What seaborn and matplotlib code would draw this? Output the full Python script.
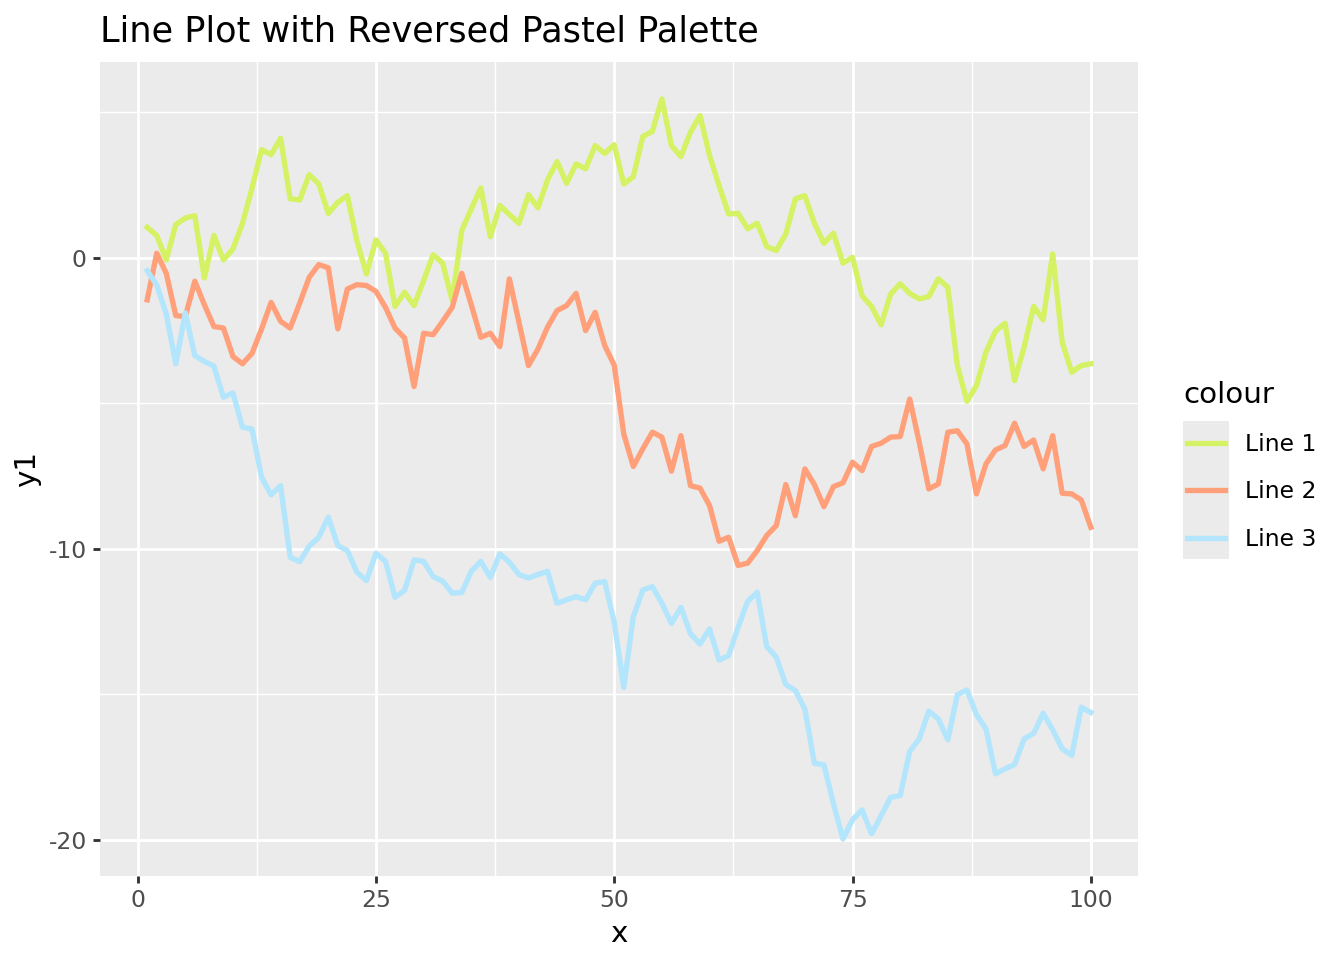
import matplotlib
matplotlib.use("Agg")
import matplotlib.pyplot as plt
import seaborn as sns
import pandas as pd
import numpy as np
from matplotlib.patches import Rectangle
from matplotlib.ticker import FixedLocator

x_vals = list(range(1, 101))

y_line1 = [1.04,0.76,-0.08,1.13,1.36,1.44,-0.70,0.76,-0.08,0.30,
           1.18,2.39,3.71,3.54,4.10,2.02,1.98,2.85,2.53,1.52,
           1.90,2.13,0.58,-0.56,0.61,0.15,-1.68,-1.19,-1.65,-0.79,
           0.10,-0.19,-1.48,0.93,1.67,2.39,0.72,1.79,1.48,1.18,
           2.16,1.71,2.67,3.30,2.55,3.22,3.05,3.85,3.58,3.88,
           2.53,2.78,4.16,4.34,5.45,3.85,3.47,4.31,4.88,3.51,
           2.47,1.50,1.52,0.99,1.18,0.38,0.24,0.81,2.02,2.13,
           1.18,0.49,0.84,-0.19,0.01,-1.31,-1.68,-2.31,-1.25,-0.90,
           -1.23,-1.42,-1.34,-0.73,-1.02,-3.71,-4.94,-4.40,-3.25,-2.53,
           -2.26,-4.23,-3.08,-1.68,-2.14,0.13,-2.91,-3.94,-3.71,-3.65]

y_line2 = [-1.45,0.15,-0.54,-1.99,-2.03,-0.81,-1.62,-2.37,-2.42,-3.40,
           -3.65,-3.29,-2.45,-1.54,-2.19,-2.42,-1.57,-0.68,-0.24,-0.35,
           -2.45,-1.08,-0.93,-0.96,-1.16,-1.71,-2.42,-2.76,-4.43,-2.60,
           -2.65,-2.19,-1.71,-0.54,-1.62,-2.74,-2.60,-3.06,-0.73,-2.22,
           -3.71,-3.14,-2.39,-1.82,-1.65,-1.23,-2.51,-1.88,-3.02,-3.70,
           -6.06,-7.18,-6.57,-6.00,-6.17,-7.34,-6.12,-7.84,-7.92,-8.52,
           -9.75,-9.61,-10.58,-10.50,-10.07,-9.55,-9.21,-7.80,-8.87,-7.26,
           -7.80,-8.56,-7.87,-7.74,-7.03,-7.32,-6.49,-6.38,-6.17,-6.15,
           -4.86,-6.35,-7.95,-7.78,-6.00,-5.95,-6.40,-8.12,-7.09,-6.61,
           -6.46,-5.69,-6.49,-6.27,-7.26,-6.12,-8.10,-8.12,-8.33,-9.27]

y_line3 = [-0.45,-0.94,-1.94,-3.65,-1.90,-3.37,-3.57,-3.73,-4.80,-4.65,
           -5.83,-5.89,-7.55,-8.15,-7.84,-10.30,-10.45,-9.92,-9.61,-8.92,
           -9.90,-10.07,-10.81,-11.10,-10.16,-10.44,-11.67,-11.44,-10.39,-10.44,
           -10.96,-11.12,-11.53,-11.51,-10.78,-10.44,-10.99,-10.18,-10.47,-10.89,
           -11.01,-10.89,-10.78,-11.88,-11.76,-11.65,-11.76,-11.19,-11.13,-12.53,
           -14.77,-12.34,-11.42,-11.31,-11.88,-12.57,-12.02,-12.93,-13.28,-12.76,
           -13.83,-13.68,-12.70,-11.81,-11.50,-13.37,-13.73,-14.67,-14.88,-15.51,
           -17.38,-17.43,-18.77,-19.98,-19.32,-18.98,-19.80,-19.18,-18.55,-18.49,
           -16.97,-16.54,-15.59,-15.85,-16.57,-15.02,-14.86,-15.70,-16.20,-17.74,
           -17.57,-17.42,-16.54,-16.35,-15.66,-16.23,-16.88,-17.11,-15.45,-15.63]

series_names = ["Line 1", "Line 2", "Line 3"]
series_colors = ["#D4F263", "#FFA07A", "#B3E5FC"]
x_ticks = [0, 25, 50, 75, 100]
y_ticks = [-20, -10, 0]
title_text = "Line Plot with Reversed Pastel Palette"
legend_title = "colour"

df = pd.DataFrame({
    "x": x_vals * 3,
    "y1": y_line1 + y_line2 + y_line3,
    "colour": sum([[n] * len(x_vals) for n in series_names], []),
})

plt.rcParams["font.family"] = ["DejaVu Sans"]
plt.rcParams["axes.unicode_minus"] = False

fig = plt.figure(figsize=(7, 5), dpi=192)
W, H = 1344, 960
ax = fig.add_axes([100 / W, 1 - 876 / H, (1138 - 100) / W, (876 - 62) / H])
ax.set_facecolor("#EBEBEB")

palette = dict(zip(series_names, series_colors))
sns.lineplot(data=df, x="x", y="y1", hue="colour", palette=palette,
             linewidth=2.0, ax=ax, legend=True)

xmin, xmax = min(x_vals), max(x_vals)
ally = y_line1 + y_line2 + y_line3
ymin, ymax = min(ally), max(ally)
xr = xmax - xmin
yr = ymax - ymin
ax.set_xlim(xmin - 0.05 * xr, xmax + 0.05 * xr)
ax.set_ylim(ymin - 0.05 * yr, ymax + 0.05 * yr)

ax.xaxis.set_major_locator(FixedLocator(x_ticks))
ax.yaxis.set_major_locator(FixedLocator(y_ticks))
ax.xaxis.set_minor_locator(FixedLocator([12.5, 37.5, 62.5, 87.5]))
ax.yaxis.set_minor_locator(FixedLocator([-15, -5, 5]))
ax.set_xticklabels([str(t) for t in x_ticks])
ax.set_yticklabels([str(t) for t in y_ticks])

ax.grid(which="major", color="white", linewidth=1.07)
ax.grid(which="minor", color="white", linewidth=0.53)
ax.set_axisbelow(True)
for s in ax.spines.values():
    s.set_visible(False)

ax.tick_params(which="major", length=2.75, width=1.07, color="#333333",
               labelcolor="#4D4D4D", labelsize=8.8, pad=2.2)
ax.tick_params(which="minor", length=0)

ax.set_xlabel("x", fontsize=11, color="black", labelpad=2.75)
ax.set_ylabel("y1", fontsize=11, color="black", labelpad=2.75)

fig.text(100 / W, 1 - 42 / H, title_text, fontsize=13.2, color="black",
         ha="left", va="baseline")

# legend
handles, labels = ax.get_legend_handles_labels()
ax.get_legend().remove()
key_left, key_right = 1183, 1229
key_top, key_bot = 421, 559
fig.patches.append(Rectangle((key_left / W, 1 - key_bot / H),
                             (key_right - key_left) / W, (key_bot - key_top) / H,
                             transform=fig.transFigure, facecolor="#EBEBEB",
                             edgecolor="none", zorder=0))
fig.text(1183 / W, 1 - 403 / H, legend_title, fontsize=11, color="black",
         ha="left", va="baseline")
leg = fig.legend(handles, labels, loc="upper left",
                 bbox_to_anchor=(1187 / W, 1 - 433 / H), frameon=False,
                 fontsize=8.8, handlelength=1.6, borderaxespad=0,
                 handletextpad=0.87, labelspacing=1.04, borderpad=0)
for line in leg.get_lines():
    line.set_linewidth(2.0)

fig.savefig("out.png", dpi=192)
